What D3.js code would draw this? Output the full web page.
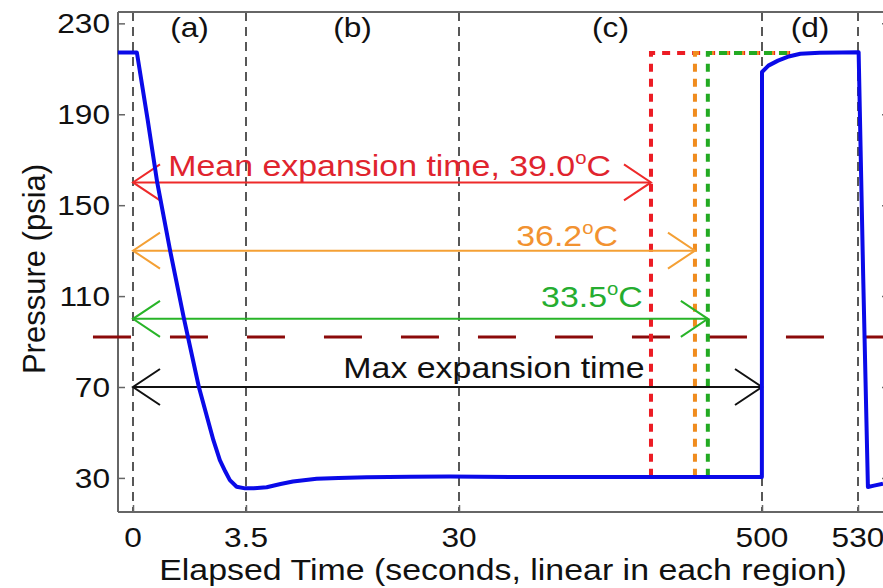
<!DOCTYPE html>
<html>
<head>
<meta charset="utf-8">
<script src="https://cdn.jsdelivr.net/npm/d3@7"></script>
<style>
  html, body { margin: 0; padding: 0; background: #fff; }
  svg { display: block; }
  text { font-family: "Liberation Sans", Arial, Helvetica, sans-serif; }
</style>
</head>
<body>
<div id="chart"></div>
<script>
// ---------------- data ----------------
const regionBreaks = [0, 3.5, 30, 500, 530];
const regionLabels = ["(a)", "(b)", "(c)", "(d)"];
const xTickValues = [0, 3.5, 30, 500, 530];
const xTickLabels = ["0", "3.5", "30", "500", "530"];
const yTickValues = [30, 70, 110, 150, 190, 230];

// measured pressure trace (seconds, psia)
const timeS = [-0.47, 0.12, 0.45, 0.75, 1.15, 1.58, 2.04, 2.49, 2.69, 2.86, 3.0, 3.21, 3.47,
  4.5, 6.07, 7.8, 9.34, 12.29, 15.0, 18.5, 24.0, 28.9,
  60, 150, 250, 350, 450, 499.8,
  500.0, 502, 505, 508, 512, 518, 525, 530.2,
  531.6, 533.1, 535, 537.8];
const pressurePsia = [217.2, 217.2, 188, 160, 130, 100, 70, 46.6, 37.8, 32.8, 29.0, 26.1, 25.4,
  25.5, 25.9, 27.3, 28.4, 29.6, 30.0, 30.3, 30.5, 30.6,
  30.5, 30.4, 30.4, 30.4, 30.4, 30.4,
  208.6, 211.4, 213.6, 215.3, 216.6, 217.1, 217.2, 217.3,
  120, 26.0, 26.6, 27.5];

// expansion-time markers
const expansionNames = ["Mean expansion time, 39.0", "36.2", "33.5"];
const expansionTimes = [327.8, 396, 416];
const arrowLevels = [160, 130, 100];
const stepLow = 30.5;
const stepHigh = 217;
const stepEnd = 510;

const maxLabel = "Max expansion time";
const maxExpansionTime = 500;
const maxLevel = 70;

const thresholdPsia = 92;
const thresholdStart = -1.24;

const xAxisTitle = "Elapsed Time (seconds, linear in each region)";
const yAxisTitle = "Pressure (psia)";

// ---------------- layout ----------------
const W = 883, H = 588;
const colors = {
  blue: "#0a0ae8",
  red: "#ec1c24",
  orange: "#f08c1e",
  green: "#22aa22",
  redArrow: "#ee2a2a",
  orangeArrow: "#f4a035",
  greenArrow: "#28b428",
  redText: "#e0242e",
  orangeText: "#f29230",
  greenText: "#25ad30",
  maroon: "#8b0a0a",
  axis: "#666"
};
const sx = 1.13;   // horizontal stretch of the glyphs in the reference

const svg = d3.select("#chart").append("svg").attr("width", W).attr("height", H);

// piecewise-linear time axis: each region linear
const x = d3.scaleLinear()
  .domain([0, 3.5, 30, 500, 530, 560])
  .range([133, 246, 459, 762, 858, 954]);
const y = d3.scaleLinear().domain([15, 235]).range([512, 12]);

const plotLeft = 118, plotTop = 12, plotBottom = 512, plotRight = 889;

function label(g, px, py, str, opt) {
  opt = opt || {};
  const t = g.append("text")
    .attr("transform", `translate(${px},${py}) scale(${opt.sx || sx},1)`)
    .attr("text-anchor", opt.anchor || "middle")
    .attr("font-size", (opt.size || 30) + "px")
    .attr("fill", opt.fill || "#111");
  if (opt.degree) {
    t.append("tspan").text(str);
    t.append("tspan").attr("font-size", "18px").attr("dy", -12).text("o");
    t.append("tspan").attr("dy", 12).text("C");
  } else {
    t.text(str);
  }
  return t;
}

// region separators
svg.append("g").selectAll("line").data(regionBreaks).join("line")
  .attr("x1", d => x(d)).attr("x2", d => x(d))
  .attr("y1", plotTop).attr("y2", plotBottom)
  .attr("stroke", "#111").attr("stroke-width", 1.4)
  .attr("stroke-dasharray", "9,6");

// frame
const frame = svg.append("g").attr("stroke", colors.axis).attr("stroke-width", 2).attr("fill", "none");
frame.append("line").attr("x1", plotLeft).attr("x2", plotRight).attr("y1", plotTop).attr("y2", plotTop);
frame.append("line").attr("x1", plotLeft).attr("x2", plotRight).attr("y1", plotBottom).attr("y2", plotBottom);
frame.append("line").attr("x1", plotLeft).attr("x2", plotLeft).attr("y1", plotTop).attr("y2", plotBottom);
frame.append("line").attr("x1", plotRight).attr("x2", plotRight).attr("y1", plotTop).attr("y2", plotBottom);

// y axis with inward ticks
const yAxisL = svg.append("g").attr("transform", `translate(${plotLeft},0)`)
  .call(d3.axisRight(y).tickValues(yTickValues).tickSize(7).tickFormat(""));
const yAxisR = svg.append("g").attr("transform", `translate(${plotRight},0)`)
  .call(d3.axisLeft(y).tickValues(yTickValues).tickSize(7).tickFormat(""));
[yAxisL, yAxisR].forEach(a => {
  a.select(".domain").remove();
  a.selectAll("line").attr("stroke", colors.axis).attr("stroke-width", 1.5);
});
yTickValues.forEach(v => label(svg, 110, y(v) + 10, String(v), {anchor: "end", size: 28}));

// x axis inward ticks
const xAxis = svg.append("g").attr("transform", `translate(0,${plotBottom})`)
  .call(d3.axisTop(x).tickValues(xTickValues).tickSize(7).tickFormat(""));
xAxis.select(".domain").remove();
xAxis.selectAll("line").attr("stroke", colors.axis).attr("stroke-width", 1.5);
xTickValues.forEach((v, i) => label(svg, x(v), 547, xTickLabels[i], {size: 28}));

// axis titles
label(svg, 503, 580, xAxisTitle, {size: 30});
svg.append("text")
  .attr("transform", `translate(45,269) rotate(-90)`)
  .attr("text-anchor", "middle").attr("font-size", "31px").attr("fill", "#111")
  .text(yAxisTitle);

// region labels
regionLabels.forEach((r, i) => {
  const mid = (regionBreaks[i] + regionBreaks[i + 1]) / 2;
  label(svg, x(mid), 37, r, {size: 28});
});

// threshold dashed line
svg.append("line")
  .attr("x1", x(thresholdStart)).attr("x2", x(560))
  .attr("y1", y(thresholdPsia)).attr("y2", y(thresholdPsia))
  .attr("stroke", colors.maroon).attr("stroke-width", 3)
  .attr("stroke-dasharray", "38,39");

// dotted step lines
const stepColors = [colors.red, colors.orange, colors.green];
const stepLine = d3.line().x(d => x(d[0])).y(d => y(d[1]));
expansionTimes.forEach((t, i) => {
  svg.append("path")
    .attr("d", stepLine([[t, stepLow], [t, stepHigh], [stepEnd, stepHigh]]))
    .attr("fill", "none").attr("stroke", stepColors[i]).attr("stroke-width", 4)
    .attr("stroke-dasharray", "8,7");
});

// double-headed arrows
function arrow(t0, t1, level, color) {
  const g = svg.append("g").attr("stroke", color).attr("stroke-width", 2).attr("fill", "none");
  const x0 = x(t0), x1 = x(t1), yy = y(level);
  g.append("line").attr("x1", x0).attr("x2", x1).attr("y1", yy).attr("y2", yy);
  g.append("path").attr("d", `M${x0 + 27},${yy - 18}L${x0},${yy}L${x0 + 27},${yy + 18}`);
  g.append("path").attr("d", `M${x1 - 27},${yy - 18}L${x1},${yy}L${x1 - 27},${yy + 18}`);
}
const arrowColors = [colors.redArrow, colors.orangeArrow, colors.greenArrow];
const textColors = [colors.redText, colors.orangeText, colors.greenText];
const labelEndOffset = [-40, -77, -65];
const labelRise = [6, 5, 12];
expansionTimes.forEach((t, i) => {
  arrow(0, t, arrowLevels[i], arrowColors[i]);
  label(svg, x(t) + labelEndOffset[i], y(arrowLevels[i]) - labelRise[i], expansionNames[i],
    {anchor: "end", fill: textColors[i], degree: true, size: 30});
});
arrow(0, maxExpansionTime, maxLevel, "#111");
label(svg, 494, y(maxLevel) - 9, maxLabel, {size: 30});

// pressure trace
const trace = d3.zip(timeS, pressurePsia);
svg.append("path")
  .attr("d", d3.line().x(d => x(d[0])).y(d => y(d[1])).curve(d3.curveLinear)(trace))
  .attr("fill", "none").attr("stroke", colors.blue).attr("stroke-width", 4)
  .attr("stroke-linejoin", "round");
</script>
</body>
</html>
